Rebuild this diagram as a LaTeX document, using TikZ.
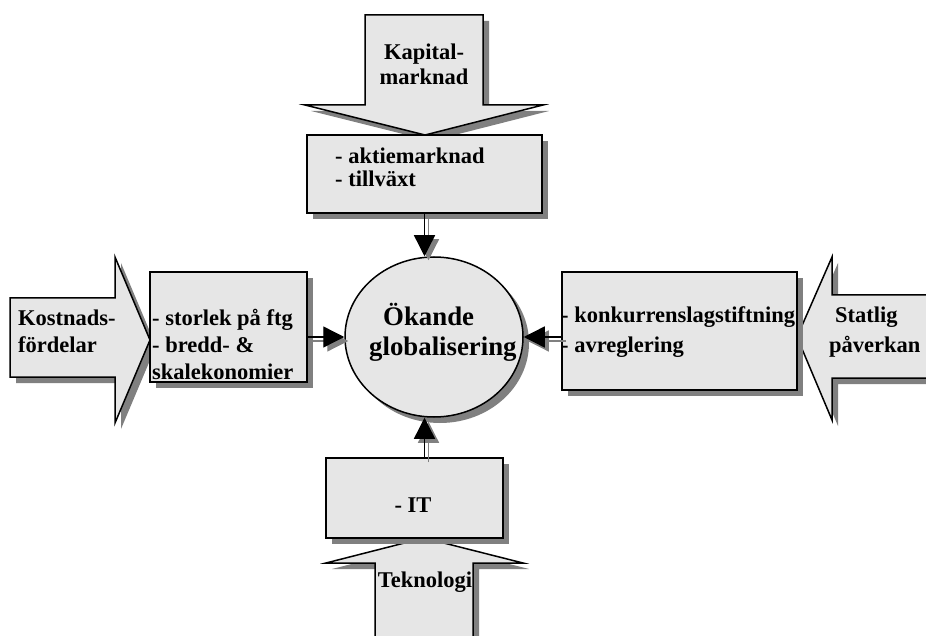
\documentclass[tikz,border=0pt]{standalone}
\usepackage{fontspec}
\setmainfont{Liberation Serif}
\usetikzlibrary{arrows.meta,shadows,shapes.geometric}

\definecolor{panelfill}{RGB}{230,230,230}
\definecolor{shadegray}{RGB}{128,128,128}

\begin{document}
\begin{tikzpicture}[x=1pt,y=-1pt,
  castshadow/.style={drop shadow={shadow xshift=6pt,shadow yshift=-6pt,fill=shadegray,opacity=1}},
  panel/.style={draw=black,line width=1.5pt,fill=panelfill,line join=miter,castshadow},
  boxnode/.style={panel,rectangle,inner sep=0pt,outer sep=0pt,anchor=north west},
  lbl/.style={font=\fontsize{22.5pt}{27pt}\selectfont\bfseries,inner sep=0pt},
  biglbl/.style={font=\fontsize{26.8pt}{30pt}\selectfont\bfseries,inner sep=0pt},
  conn/.style={line width=1.4pt,-{Triangle[length=21pt,width=21pt]}},
  connshade/.style={conn,draw=shadegray,fill=shadegray,line width=1.2pt,
    transform canvas={shift={(4pt,-4pt)}}},
]
\useasboundingbox (0,0) rectangle (926,636);

% block arrows feeding the four boxes
\path[panel] (365,15) -- (483,15) -- (483,105) -- (543,105) -- (425,135)
  -- (305,105) -- (365,105) -- cycle;
\path[panel] (10,298) -- (115,298) -- (115,257) -- (150,340) -- (115,423)
  -- (115,377) -- (10,377) -- cycle;
\path[panel] (960,295) -- (832,295) -- (832,257) -- (797,337) -- (832,420)
  -- (832,378) -- (960,378) -- cycle;
\path[panel] (375,660) -- (375,563) -- (326,563) -- (424,538) -- (523,563)
  -- (473,563) -- (473,660) -- cycle;

% boxes
\node[boxnode,minimum width=235pt,minimum height=78pt] (topbox) at (307,135) {};
\node[boxnode,minimum width=157pt,minimum height=110pt] (leftbox) at (150,272) {};
\node[boxnode,minimum width=235pt,minimum height=118pt] (rightbox) at (562,272) {};
\node[boxnode,minimum width=177pt,minimum height=80pt] (botbox) at (326,458) {};

% central ellipse
\node[panel,ellipse,minimum width=178pt,minimum height=160pt,inner sep=0pt] (core) at (434,337) {};

% texts of the block arrows
\node[lbl,anchor=base] (kap1) at (424,60) {Kapital-};
\node[lbl,anchor=base] (kap2) at (424,85) {marknad};
\node[lbl,anchor=base west] (kost1) at (18,325) {Kostnads-};
\node[lbl,anchor=base west] (kost2) at (18,352) {fördelar};
\node[lbl,anchor=base west] (stat1) at (835,323) {Statlig};
\node[lbl,anchor=base west] (stat2) at (829,352) {påverkan};
\node[lbl,anchor=base] (tekn) at (425,587) {Teknologi};

% texts of the boxes
\node[lbl,anchor=base west] (akt) at (335,164) {- aktiemarknad};
\node[lbl,anchor=base west] (till) at (335,187) {- tillväxt};
\node[lbl,anchor=base west] (stor) at (152,325) {- storlek på ftg};
\node[lbl,anchor=base west] (bred) at (152,352) {- bredd- \&};
\node[lbl,anchor=base west] (skal) at (152,379) {skalekonomier};
\node[lbl,anchor=base west] (konk) at (561,323) {- konkurrenslagstiftning};
\node[lbl,anchor=base west] (avre) at (561,352) {- avreglering};
\node[lbl,anchor=base] (it) at (413,512) {- IT};

% centre label
\node[biglbl,anchor=base west] (ok1) at (383,325) {Ökande};
\node[biglbl,anchor=base west] (ok2) at (369,355) {globalisering};

% connectors into the ellipse, each with a grey shadow copy
\coordinate (tin) at (topbox.south |- core.north);
\coordinate (bin) at (botbox.north -| topbox.south);
\coordinate (bout) at (core.south -| topbox.south);
\coordinate (lout) at (leftbox.east |- core.west);
\coordinate (rout) at (rightbox.west |- core.east);

\draw[connshade] (topbox.south) -- (tin);
\draw[conn] (topbox.south) -- (tin);
\draw[connshade] (bin) -- (bout);
\draw[conn] (bin) -- (bout);
\draw[connshade] (lout) -- (core.west);
\draw[conn] (lout) -- (core.west);
\draw[connshade] (rout) -- (core.east);
\draw[conn] (rout) -- (core.east);
\end{tikzpicture}
\end{document}
